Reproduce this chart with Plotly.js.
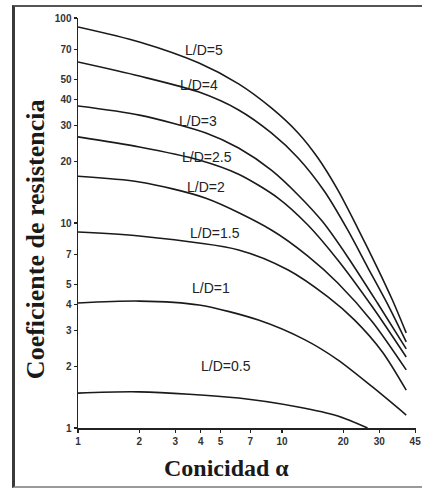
<!DOCTYPE html>
<html>
<head>
<meta charset="utf-8">
<script src="https://cdn.plot.ly/plotly-3.0.1.min.js"></script>
<style>
  html, body { margin: 0; padding: 0; background: #ffffff; }
  #chart { width: 422px; height: 489px; position: absolute; left: 0; top: 0; }
  #frame { position: absolute; left: 12px; top: 5px; width: 420px; height: 483px; box-sizing: border-box;
           border-left: 3px solid #3a3a3a; border-top: 2px solid #555; border-bottom: 2px solid #9a9a9a;
           pointer-events: none; z-index: 5; }
</style>
</head>
<body>
<div id="chart"></div>
<div id="frame"></div>
<script>
// Conicidad α (x) values and drag coefficient (y) per L/D curve
const ld5_x  = [1, 2.0, 3.92, 6.13, 8.87, 12.0, 15.02, 18.78, 23.5, 29.39, 34.8, 40.67];
const ld5_y  = [90.4, 76.4, 60.3, 47.7, 36.4, 27.5, 20.75, 14.5, 9.45, 6.03, 4.21, 2.91];
const ld4_x  = [1, 2.0, 3.92, 6.13, 8.87, 12.0, 16.24, 21.0, 26.28, 32.9, 40.67];
const ld4_y  = [61.0, 52.1, 43.5, 35.6, 27.5, 20.75, 14.16, 9.25, 6.10, 4.03, 2.63];
const ld3_x  = [1, 2.0, 4.24, 6.13, 8.87, 12.0, 15.88, 21.0, 29.39, 40.67];
const ld3_y  = [37.2, 33.6, 27.5, 23.2, 18.1, 13.7, 10.1, 6.83, 4.07, 2.43];
const ld25_x = [1, 2.0, 3.92, 6.13, 9.60, 13.4, 18.78, 27.79, 40.67];
const ld25_y = [26.3, 23.5, 20.3, 17.3, 13.2, 9.78, 6.60, 3.89, 2.22];
const ld2_x  = [1, 2.0, 4.24, 8.87, 13.4, 18.78, 27.79, 40.67];
const ld2_y  = [16.9, 15.85, 13.2, 9.25, 6.90, 5.10, 3.29, 1.92];
const ld15_x = [1, 2.0, 6.13, 10.73, 16.80, 22.72, 31.08, 40.67];
const ld15_y = [9.04, 8.64, 7.39, 5.90, 4.36, 3.36, 2.35, 1.53];
const ld1_x  = [1, 2.0, 3.92, 7.67, 12.98, 18.78, 27.79, 40.67];
const ld1_y  = [4.07, 4.16, 3.98, 3.36, 2.69, 2.15, 1.585, 1.157];
const ld05_x = [1, 2.0, 6.13, 12.0, 18.78, 26.28];
const ld05_y = [1.48, 1.50, 1.40, 1.266, 1.144, 1.0];

const curveNames = ["L/D=5", "L/D=4", "L/D=3", "L/D=2.5", "L/D=2", "L/D=1.5", "L/D=1", "L/D=0.5"];
const xTickVals = [1, 2, 3, 4, 5, 7, 10, 20, 30, 45];
const xTickText = ["1", "2", "3", "4", "5", "7", "10", "20", "30", "45"];
const yTickVals = [1, 2, 3, 4, 5, 7, 10, 20, 30, 40, 50, 70, 100];
const yTickText = ["1", "2", "3", "4", "5", "7", "10", "20", "30", "40", "50", "70", "100"];
const xTitle = "Conicidad α";
const yTitle = "Coeficiente de resistencia";

const xs = [ld5_x, ld4_x, ld3_x, ld25_x, ld2_x, ld15_x, ld1_x, ld05_x];
const ys = [ld5_y, ld4_y, ld3_y, ld25_y, ld2_y, ld15_y, ld1_y, ld05_y];

// label anchor positions (paper fraction of plot area)
const labelPos = [[0.374, 0.922], [0.359, 0.837], [0.356, 0.749], [0.382, 0.661],
                  [0.379, 0.588], [0.406, 0.476], [0.394, 0.342], [0.438, 0.151]];

const traces = xs.map((x, i) => ({
  x: x, y: ys[i], name: curveNames[i], type: 'scatter', mode: 'lines',
  line: { color: '#1a1a1a', width: 1.6, shape: 'spline', smoothing: 0.8 },
  showlegend: false, hoverinfo: 'skip'
}));

const annotations = curveNames.map((t, i) => ({
  text: t, xref: 'paper', yref: 'paper', x: labelPos[i][0], y: labelPos[i][1],
  showarrow: false, xanchor: 'center', yanchor: 'middle',
  font: { family: 'Liberation Sans, Arial, sans-serif', size: 14, color: '#222' }
}));
annotations.push({
  text: '<b>' + yTitle + '</b>', xref: 'paper', yref: 'paper', x: -0.125, y: 0.46,
  textangle: -90, showarrow: false, xanchor: 'center', yanchor: 'middle',
  font: { family: 'Liberation Serif, Times New Roman, serif', size: 26, color: '#1a1a1a' }
});
annotations.push({
  text: '<b>' + xTitle + '</b>', xref: 'paper', yref: 'paper', x: 0.438, y: -0.098,
  showarrow: false, xanchor: 'center', yanchor: 'middle',
  font: { family: 'Liberation Serif, Times New Roman, serif', size: 24, color: '#1a1a1a' }
});

const layout = {
  width: 422, height: 489,
  margin: { l: 78, r: 6, t: 18, b: 61, pad: 0 },
  paper_bgcolor: '#ffffff', plot_bgcolor: '#ffffff',
  showlegend: false,
  xaxis: {
    type: 'log', range: [0, Math.log10(45) + 0.004],
    tickvals: xTickVals, ticktext: xTickText, ticklabeloverflow: 'allow',
    showgrid: false, zeroline: false, showline: true, linecolor: '#222', linewidth: 1.5,
    ticks: 'outside', ticklen: 3, tickwidth: 1.2, tickcolor: '#222',
    tickfont: { family: 'Liberation Sans, Arial, sans-serif', size: 10, color: '#333', weight: 'bold' }
  },
  yaxis: {
    type: 'log', range: [0, 2],
    tickvals: yTickVals, ticktext: yTickText,
    showgrid: false, zeroline: false, showline: true, linecolor: '#222', linewidth: 1.5,
    ticks: 'outside', ticklen: 3, tickwidth: 1.2, tickcolor: '#222',
    tickfont: { family: 'Liberation Sans, Arial, sans-serif', size: 10, color: '#333', weight: 'bold' }
  },
  annotations: annotations
};

Plotly.newPlot('chart', traces, layout, { staticPlot: true, displayModeBar: false });
</script>
</body>
</html>
